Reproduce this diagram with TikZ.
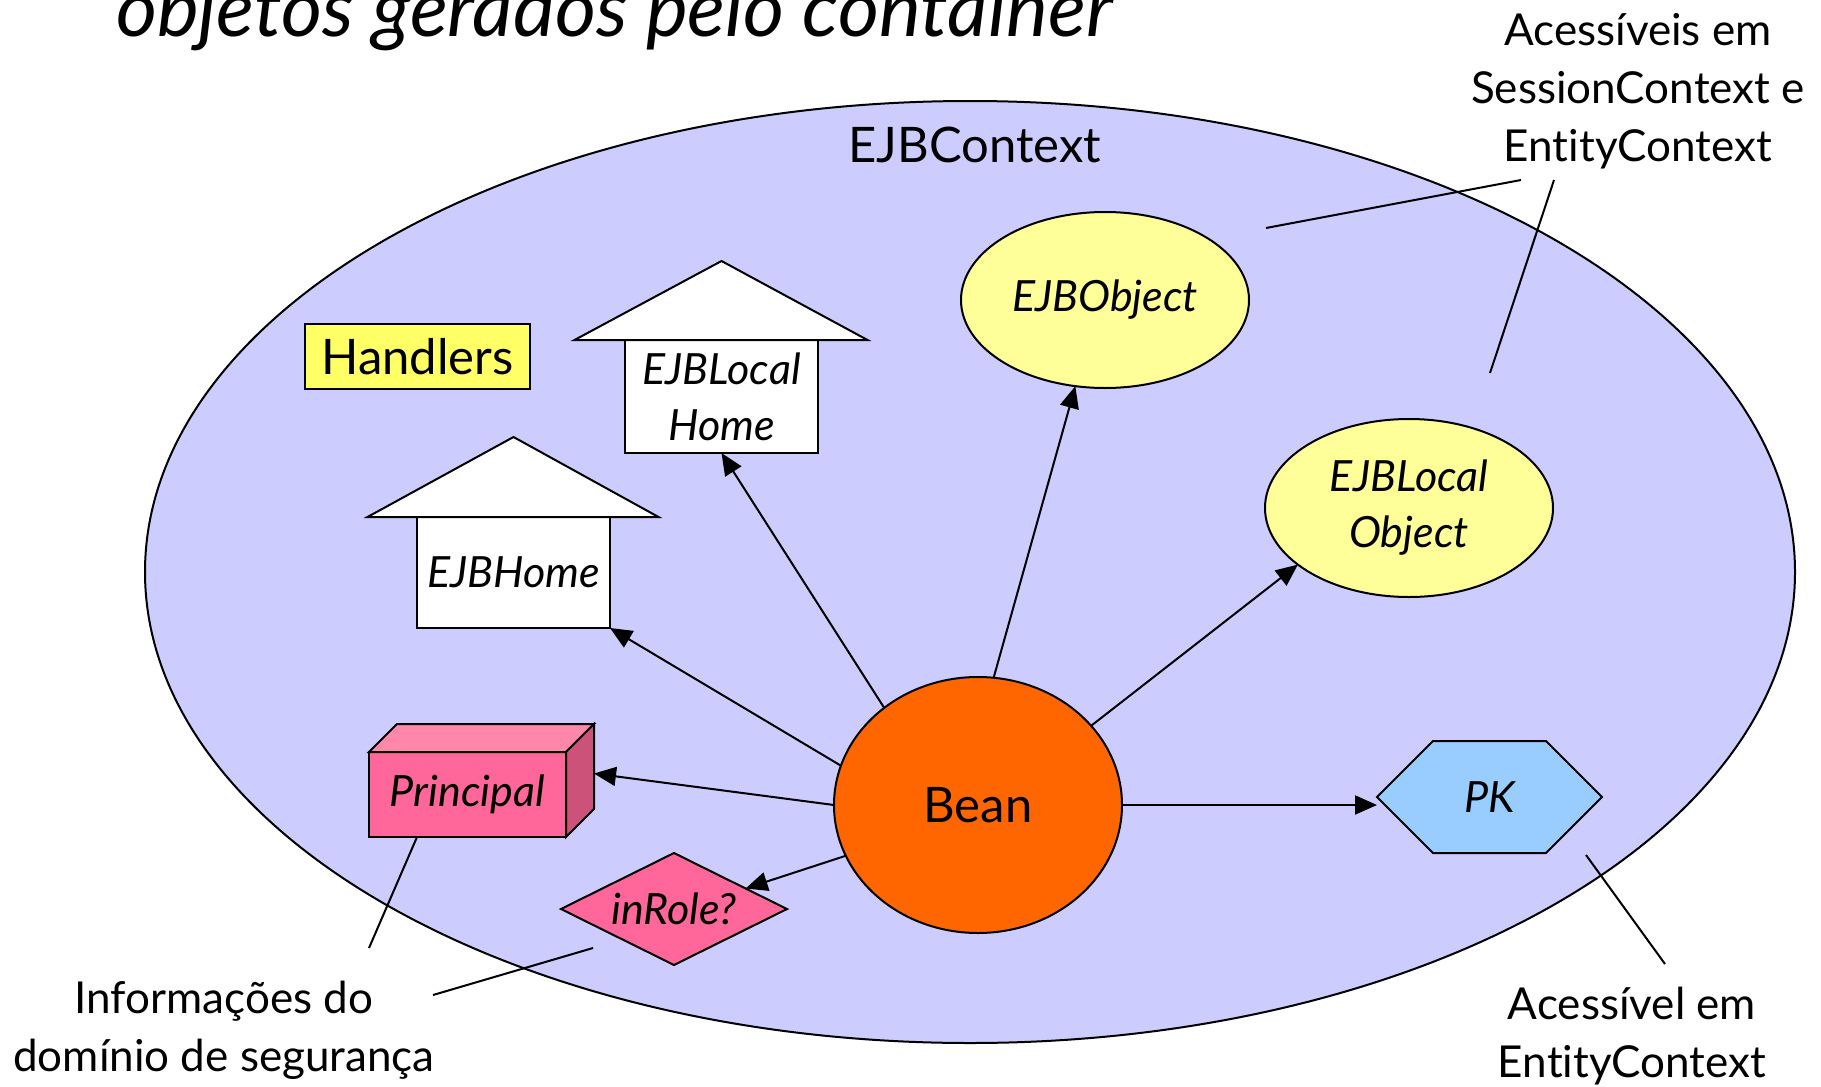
\documentclass[tikz,border=0pt]{standalone}
\usepackage{fontspec}
\setmainfont{Lato}[Ligatures=NoCommon]
\usetikzlibrary{shapes.geometric,arrows.meta,calc}
\definecolor{ctxfill}{RGB}{204,204,255}
\definecolor{objyellow}{RGB}{255,255,153}
\definecolor{hdlyellow}{RGB}{255,255,102}
\definecolor{beanorange}{RGB}{255,102,0}
\definecolor{pkblue}{RGB}{153,204,255}
\definecolor{pinkfront}{RGB}{255,102,153}
\definecolor{pinktop}{RGB}{255,136,170}
\definecolor{pinkside}{RGB}{204,82,122}
\begin{document}
\begin{tikzpicture}[x=1pt,y=-1pt,line width=2pt,
  every node/.style={inner sep=0pt,outer sep=0pt},
  big/.style={font=\fontsize{49}{58}\selectfont},
  ital/.style={font=\fontsize{43}{56}\selectfont\itshape,align=center},
  note/.style={font=\fontsize{44}{58}\selectfont,align=center},
  link/.style={-{Triangle[length=22pt,width=19pt]}},
  leader/.style={line width=2pt},
  housebox/.style={ital,draw,fill=white,minimum width=193pt},
]
\useasboundingbox (0,0) rectangle (1821,1087);
\clip (0,0) rectangle (1821,1087);

% heading, partly cut off at the top
\node[font=\fontsize{79}{84}\selectfont\itshape,anchor=base west] (title) at (116,36) {objetos gerados pelo container};

% the context
\node[draw,ellipse,fill=ctxfill,minimum width=1650pt,minimum height=942pt] (ctx) at (970,572) {};
\node[big] (ctxlabel) at (975,145) {EJBContext};

% handlers
\node[big,draw,fill=hdlyellow,minimum width=225pt,minimum height=65pt] (hdl) at (417.5,356.5) {Handlers};

% home interfaces drawn as houses
\node[housebox,minimum height=113pt] (elh) at (721.5,396.5) {EJBLocal\\Home};
\draw[fill=white] ($(elh.north)+(-147,0)$) -- ($(elh.north)+(0,-79)$) -- ($(elh.north)+(146,0)$) -- cycle;
\node[housebox,minimum height=111pt] (eh) at (513.5,572.5) {EJBHome};
\draw[fill=white] ($(eh.north)+(-146,0)$) -- ($(eh.north)+(0,-80)$) -- ($(eh.north)+(145,0)$) -- cycle;

% component interfaces
\node[ital,draw,ellipse,fill=objyellow,minimum width=288pt,minimum height=176pt] (ejbo) at (1105,300) {EJBObject};
\node[ital,draw,ellipse,fill=objyellow,minimum width=288pt,minimum height=178pt] (elo) at (1409,508) {EJBLocal\\Object};

% the bean
\node[big,draw,ellipse,fill=beanorange,minimum width=288pt,minimum height=256pt] (bean) at (978,805) {Bean};

% primary key hexagon
\node[minimum width=225pt,minimum height=112pt] (pk) at (1489.5,797) {};
\draw[fill=pkblue] (pk.west) -- ($(pk.north west)+(56,0)$) -- ($(pk.north east)+(-56,0)$) -- (pk.east)
  -- ($(pk.south east)+(-56,0)$) -- ($(pk.south west)+(56,0)$) -- cycle;
\node[ital] (pktext) at (pk) {PK};

% principal as a box
\node[ital,draw,fill=pinkfront,minimum width=197pt,minimum height=85pt] (prin) at (467.5,794.5) {Principal};
\draw[fill=pinktop] (prin.north west) -- ++(28,-28) -- ++(197,0) -- (prin.north east) -- cycle;
\draw[fill=pinkside] (prin.north east) -- ++(28,-28) -- ++(0,85) -- (prin.south east) -- cycle;
\coordinate (prinback) at ($(prin.east)+(28,-21)$);

% role check
\node[diamond,draw,fill=pinkfront,minimum width=226pt,minimum height=112pt] (role) at (674,909) {};
\node[ital] (roletext) at (role) {inRole?};

% references held by the bean
\draw[link] (bean.west) -- (prinback);
\draw[link] (bean.201) -- (role.16.5);
\draw[link] (bean.164.6) -- (eh.south east);
\draw[link] (bean.134.7) -- (elh.south);
\draw[link] (bean.83) -- (ejbo.251);
\draw[link] (bean.35.4) -- (elo.207);
\draw[link] (bean.east) -- (bean.east -| pk.west);

% notes
\node[note] (noteA) at (1638,91) {Acessíveis em\\SessionContext e\\EntityContext};
\coordinate (noteAfoot1) at (1521,180);
\coordinate (noteAfoot2) at (1554,180);
\coordinate (noteAtip1) at (1266,228);
\coordinate (noteAtip2) at (1490,373);
\draw[leader] (noteAfoot1) -- (noteAtip1);
\draw[leader] (noteAfoot2) -- (noteAtip2);

\node[note] (noteB) at (224,1030) {Informações do\\domínio de segurança};
\coordinate (noteBfoot1) at (369,948);
\coordinate (noteBfoot2) at (433,995);
\coordinate (noteBtip2) at (593,948);
\draw[leader] (noteBfoot1) -- ($(prin.south west)+(48,0)$);
\draw[leader] (noteBfoot2) -- (noteBtip2);

\node[note] (noteC) at (1632,1036) {Acessível em\\EntityContext};
\coordinate (noteCfoot) at (1665,964);
\coordinate (noteCtip) at (1586,855);
\draw[leader] (noteCfoot) -- (noteCtip);
\end{tikzpicture}
\end{document}
